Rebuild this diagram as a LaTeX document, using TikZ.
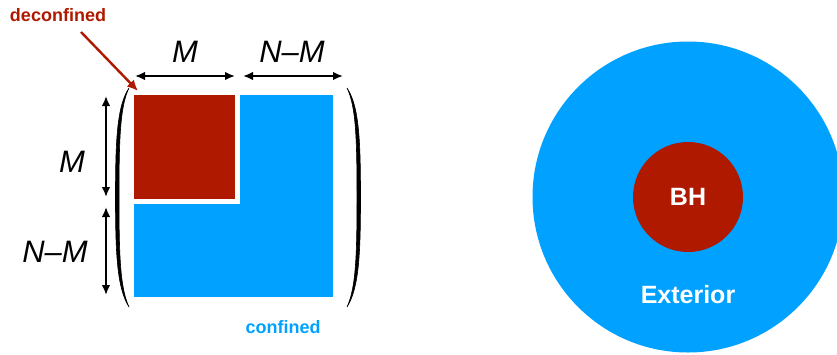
\documentclass[tikz,border=0pt]{standalone}
\usepackage{fontspec}
\setmainfont{Liberation Sans}
\usetikzlibrary{arrows.meta,positioning}
\definecolor{cred}{RGB}{175,25,0}
\definecolor{cblue}{RGB}{0,161,255}
\tikzset{
    dimarrow/.style={line width=1.8, {Latex[length=10,width=8.5]}-{Latex[length=10,width=8.5]}},
    paren/.style={fill=black, draw=black, line width=0.6, line join=round},
    dimlabel/.style={font=\fontsize{31}{31}\selectfont\itshape},
    tag/.style={font=\fontsize{18}{18}\selectfont\bfseries},
}
\begin{document}
\begin{tikzpicture}[x=1pt, y=-1pt]
    \clip (0,0) rectangle (837,354);
    % matrix
    \node[fill=cblue, inner sep=0, minimum width=199, minimum height=202] (blue) at (233.5,196) {};
    \node[fill=cred, draw=white, line width=5, inner sep=0, minimum width=106, minimum height=109] (red) at (184.5,147) {};
    \path[paren] (129,88) .. controls (117,106) and (115.5,140) .. (115.5,197)
        .. controls (115.5,254) and (117,288) .. (129,307)
        .. controls (120,288) and (119,254) .. (119,197)
        .. controls (119,140) and (120,106) .. cycle;
    \path[paren] (347,88) .. controls (359,106) and (360.5,140) .. (360.5,197)
        .. controls (360.5,254) and (359,288) .. (347,307)
        .. controls (356,288) and (357,254) .. (357,197)
        .. controls (357,140) and (356,106) .. cycle;

    % dimension arrows
    \coordinate (h1) at (135,76);
    \coordinate (h2) at (235,76);
    \coordinate (h3) at (243,76);
    \coordinate (h4) at (343,76);
    \coordinate (v1) at (106,96);
    \coordinate (v2) at (106,197);
    \coordinate (v3) at (106,207);
    \coordinate (v4) at (106,295);
    \draw[dimarrow] (h1) -- (h2);
    \draw[dimarrow] (h3) -- (h4);
    \draw[dimarrow] (v1) -- (v2);
    \draw[dimarrow] (v3) -- (v4);
    \node[dimlabel] (mtop) at (185,52) {M};
    \node[dimlabel] (nmtop) at (292,52) {N--M};
    \node[dimlabel] (mleft) at (72,162) {M};
    \node[dimlabel] (nmleft) at (55,252) {N--M};

    % labels
    \node[tag, text=cred] (deconf) at (58,15) {deconfined};
    \node[tag, text=cblue] (conf) at (283,327) {confined};
    \coordinate (tail) at (81,32);
    \coordinate (tip) at (138,91);
    \draw[cred, line width=2.4, -{Latex[length=11,width=10]}] (tail) -- (tip);

    % black hole
    \node[circle, fill=cblue, inner sep=0, minimum size=311] (ext) at (688,197) {};
    \node[circle, fill=cred, inner sep=0, minimum size=110] (bh) at (688,197) {};
    \node[text=white, font=\fontsize{25}{25}\selectfont\bfseries] at (bh) {BH};
    \node[text=white, font=\fontsize{25}{25}\selectfont\bfseries] (extlabel) at (688,295) {Exterior};
\end{tikzpicture}
\end{document}
